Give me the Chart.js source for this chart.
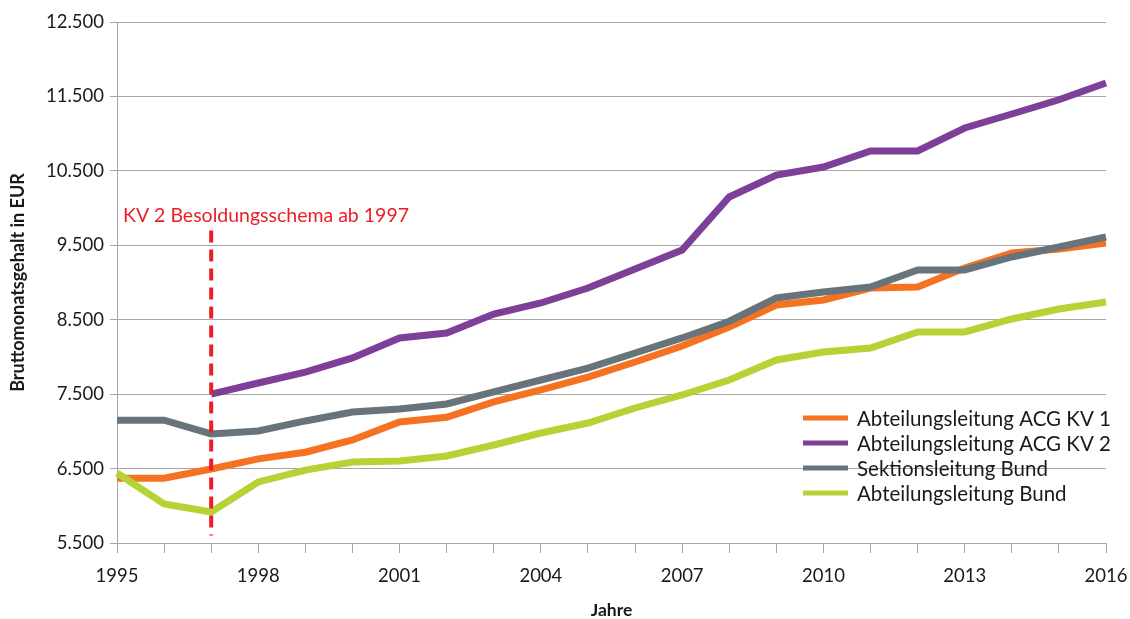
<!DOCTYPE html>
<html>
<head>
<meta charset="utf-8">
<script src="https://cdn.jsdelivr.net/npm/chart.js@4.4.1/dist/chart.umd.min.js"></script>
<style>
  html, body { margin: 0; padding: 0; background: #fff; }
  #wrap { width: 1130px; height: 619px; }
</style>
</head>
<body>
<div id="wrap"><canvas id="gehaltChart" width="1130" height="619"></canvas></div>
<script>
const years = ['1995', '1996', '1997', '1998', '1999', '2000', '2001', '2002', '2003', '2004', '2005',
    '2006', '2007', '2008', '2009', '2010', '2011', '2012', '2013', '2014', '2015', '2016'];

const acgKv1 = [6370, 6370, 6495, 6630, 6720, 6884, 7126, 7190, 7395, 7556, 7730,
    7932, 8147, 8402, 8698, 8765, 8926, 8940, 9195, 9396, 9450, 9530];
const acgKv2 = [null, null, 7500, 7650, 7797, 7986, 8254, 8321, 8577, 8725, 8926,
    9181, 9437, 10149, 10444, 10552, 10767, 10767, 11076, 11264, 11455, 11680];
const sektionBund = [7150, 7150, 6965, 7005, 7140, 7260, 7300, 7368, 7530, 7690, 7850,
    8053, 8255, 8480, 8792, 8872, 8940, 9168, 9168, 9343, 9477, 9611];
const abteilungBund = [6441, 6024, 5917, 6320, 6480, 6588, 6602, 6669, 6817, 6978, 7112,
    7314, 7489, 7690, 7959, 8066, 8120, 8335, 8335, 8510, 8644, 8738];

const seriesNames = ['Abteilungsleitung ACG KV 1', 'Abteilungsleitung ACG KV 2',
    'Sektionsleitung Bund', 'Abteilungsleitung Bund'];
const seriesColors = ['#f47221', '#7d3f98', '#68747b', '#b5d334'];

const yTicks = [5500, 6500, 7500, 8500, 9500, 10500, 11500, 12500];

const markerYear = '1997';
const markerText = 'KV 2 Besoldungsschema ab 1997';

const FONT = 'Lato, "Open Sans", sans-serif';
const GRID = '#a6a6a6';
const INK = '#1a1a1a';

function fmtDe(v) {
    return String(v).replace(/\B(?=(\d{3})+(?!\d))/g, '.');
}

// red dashed line + note for the KV 2 scheme start
const markerPlugin = {
    id: 'marker',
    afterDatasetsDraw(chart) {
        const { ctx, scales: { x, y } } = chart;
        const px = x.getPixelForValue(years.indexOf(markerYear));
        ctx.save();
        ctx.strokeStyle = '#ee1c25';
        ctx.lineWidth = 4;
        ctx.setLineDash([12, 7]);
        ctx.beginPath();
        ctx.moveTo(px, y.getPixelForValue(9700));
        ctx.lineTo(px, y.getPixelForValue(5600));
        ctx.stroke();
        ctx.setLineDash([]);
        ctx.fillStyle = '#ee1c25';
        ctx.font = '19.5px ' + FONT;
        ctx.textBaseline = 'alphabetic';
        ctx.fillText(markerText, 123, 222);
        ctx.restore();
    }
};

// legend inside the plot, lower right
const legendPlugin = {
    id: 'innerLegend',
    afterDraw(chart) {
        const { ctx } = chart;
        const rows = [418, 443, 468, 493];
        ctx.save();
        ctx.font = '20.5px ' + FONT;
        ctx.textBaseline = 'middle';
        seriesNames.forEach((name, i) => {
            ctx.strokeStyle = seriesColors[i];
            ctx.lineWidth = 5;
            ctx.beginPath();
            ctx.moveTo(803, rows[i]);
            ctx.lineTo(848, rows[i]);
            ctx.stroke();
            ctx.fillStyle = INK;
            ctx.fillText(name, 857, rows[i] + 1);
        });
        ctx.restore();
    }
};

const seriesData = [acgKv1, acgKv2, sektionBund, abteilungBund];
const drawOrder = [3, 2, 1, 0];

new Chart(document.getElementById('gehaltChart'), {
    type: 'line',
    data: {
        labels: years,
        datasets: seriesData.map((d, i) => ({
            label: seriesNames[i],
            data: d,
            borderColor: seriesColors[i],
            backgroundColor: seriesColors[i],
            borderWidth: 7,
            borderJoinStyle: 'miter',
            pointRadius: 0,
            tension: 0,
            order: drawOrder[i]
        }))
    },
    options: {
        responsive: false,
        animation: false,
        layout: { padding: { top: 22, right: 24, left: 0, bottom: 0 } },
        plugins: {
            legend: { display: false },
            tooltip: { enabled: false }
        },
        scales: {
            x: {
                afterFit(scale) {
                    scale.height = 76;
                    scale.paddingLeft = 0;
                    scale.paddingRight = 0;
                },
                grid: {
                    drawOnChartArea: false,
                    drawTicks: true,
                    tickLength: 10,
                    color: GRID
                },
                border: { color: GRID },
                ticks: {
                    autoSkip: false,
                    maxRotation: 0,
                    padding: 12,
                    color: INK,
                    font: { family: FONT, size: 18.5 },
                    callback(v, i) { return i % 3 === 0 ? years[i] : ''; }
                },
                title: {
                    display: true,
                    text: 'Jahre',
                    color: INK,
                    font: { family: FONT, size: 17.5, weight: 'bold', lineHeight: 1 },
                    padding: { top: 0, bottom: 0 }
                }
            },
            y: {
                min: yTicks[0],
                max: yTicks[yTicks.length - 1],
                afterFit(scale) { scale.width = 117; },
                afterBuildTicks(scale) { scale.ticks = yTicks.map(v => ({ value: v })); },
                grid: {
                    color: GRID,
                    tickLength: 7
                },
                border: { color: GRID },
                ticks: {
                    padding: 6,
                    color: INK,
                    font: { family: FONT, size: 18.5 },
                    callback(v) { return fmtDe(v); }
                },
                title: {
                    display: true,
                    text: 'Bruttomonatsgehalt in EUR',
                    color: INK,
                    font: { family: FONT, size: 18, weight: 'bold', lineHeight: 1.2 },
                    padding: { top: 7, bottom: 0 }
                }
            }
        }
    },
    plugins: [markerPlugin, legendPlugin]
});
</script>
</body>
</html>
